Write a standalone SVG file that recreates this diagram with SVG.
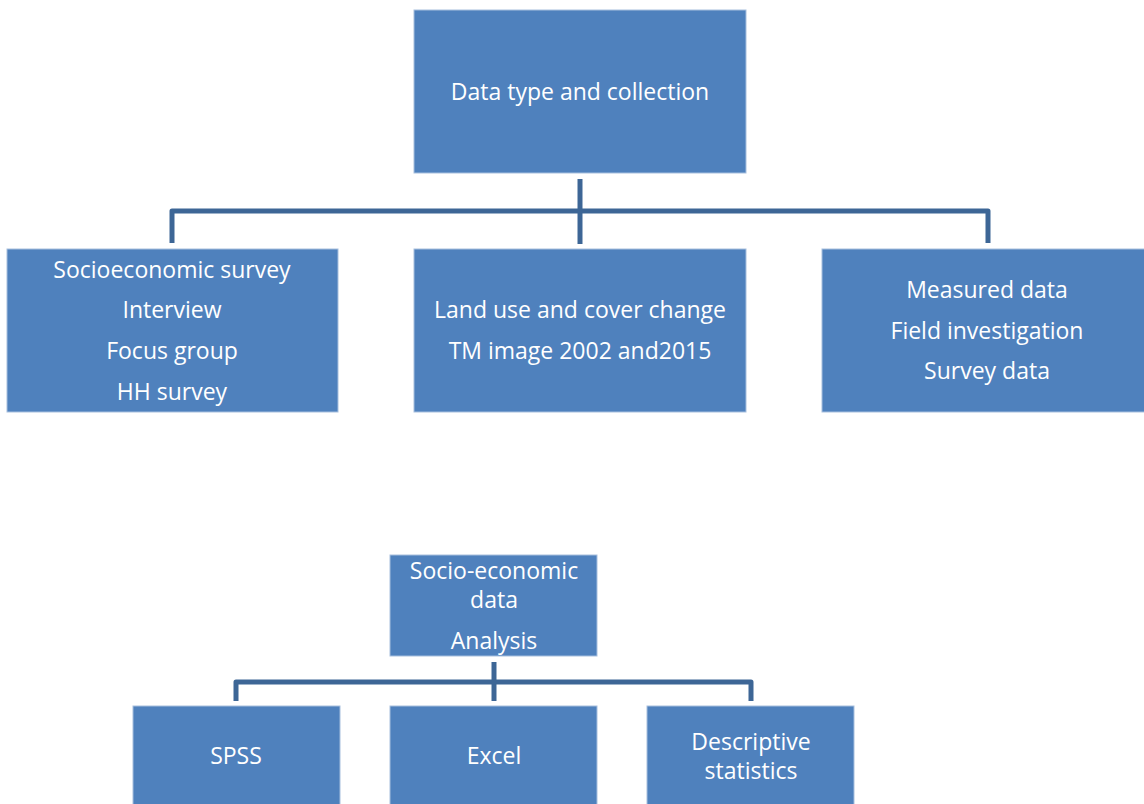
<svg xmlns="http://www.w3.org/2000/svg" width="1144" height="804" viewBox="0 0 1144 804">
<style>
.box{fill:#4F81BD;stroke:#A7BFDE;stroke-width:1}
.t{font-family:"Open Sans","Noto Sans",sans-serif;font-size:23px;fill:#FFFFFF;text-anchor:middle}
.c{fill:none;stroke:#3D6696;stroke-width:5;stroke-linejoin:round}
</style>
<rect width="1144" height="804" fill="#FFFFFF"/>
<g id="connectors">
<path class="c" d="M580,179 V244"/>
<path class="c" d="M172,243 V211 H988 V243"/>
<path class="c" d="M494,662 V701"/>
<path class="c" d="M236,701 V682 H751 V701"/>
</g>
<g id="n-top"><rect class="box" x="414" y="10" width="332" height="163"/><text class="t" x="580" y="100">Data type and collection</text></g>
<g id="n-socio"><rect class="box" x="7" y="249" width="331" height="163"/>
<text class="t" x="172" y="278">Socioeconomic survey</text>
<text class="t" x="172" y="318">Interview</text>
<text class="t" x="172" y="359">Focus group</text>
<text class="t" x="172" y="400">HH survey</text></g>
<g id="n-land"><rect class="box" x="414" y="249" width="332" height="163"/>
<text class="t" x="580" y="318">Land use and cover change</text>
<text class="t" x="580" y="359">TM image 2002 and2015</text></g>
<g id="n-measured"><rect class="box" x="822" y="249" width="330" height="163"/>
<text class="t" x="987" y="298">Measured data</text>
<text class="t" x="987" y="339">Field investigation</text>
<text class="t" x="987" y="379">Survey data</text></g>
<g id="n-analysis"><rect class="box" x="390" y="555" width="207" height="101"/>
<text class="t" x="494" y="579">Socio-economic</text>
<text class="t" x="494" y="608">data</text>
<text class="t" x="494" y="649">Analysis</text></g>
<g id="n-spss"><rect class="box" x="133" y="706" width="207" height="110"/><text class="t" x="236" y="764">SPSS</text></g>
<g id="n-excel"><rect class="box" x="390" y="706" width="207" height="110"/><text class="t" x="494" y="764">Excel</text></g>
<g id="n-desc"><rect class="box" x="647" y="706" width="207" height="110"/>
<text class="t" x="751" y="750">Descriptive</text>
<text class="t" x="751" y="779">statistics</text></g>
</svg>
